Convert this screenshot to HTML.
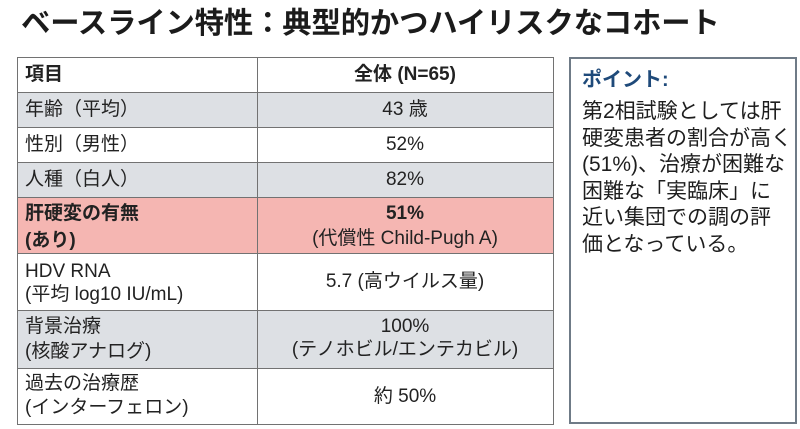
<!DOCTYPE html>
<html lang="ja">
<head>
<meta charset="utf-8">
<style>
  html,body{margin:0;padding:0;background:#fff;}
  body{width:800px;height:429px;position:relative;overflow:hidden;
       font-family:"Liberation Sans","Noto Sans CJK JP",sans-serif;color:#222;}
  .title{position:absolute;left:21px;top:4px;font-size:29.3px;font-weight:bold;line-height:40px;
         color:#1b1b1b;white-space:nowrap;letter-spacing:-0.1px;}
  .row{position:absolute;left:17px;width:536px;}
  .cell{position:absolute;top:0;height:100%;display:flex;align-items:center;
        font-size:19px;line-height:25px;box-sizing:border-box;white-space:nowrap;}
  .c1{left:0;width:240px;padding-left:8px;}
  .c2{left:240px;width:296px;justify-content:center;text-align:center;}
  .hl{position:absolute;left:17px;width:537px;height:1.5px;background:#727272;}
  .vl{position:absolute;top:57px;height:368px;width:1.5px;background:#727272;}
  .gray{background:#dde0e4;}
  .pink{background:#f5b6b2;}
  .box{position:absolute;left:569px;top:57px;width:224px;height:363px;border:2px solid #6f7b87;
       background:#fff;box-sizing:content-box;}
  .box .pt{position:absolute;left:11px;top:8px;font-size:20px;font-weight:bold;color:#1f4a7a;line-height:26px;}
  .box .txt{position:absolute;left:11px;top:40px;font-size:21px;line-height:26.5px;color:#1e1e1e;white-space:nowrap;}
</style>
</head>
<body>
<div class="title">ベースライン特性：典型的かつハイリスクなコホート</div>

<!-- rows -->
<div class="row" style="top:57px;height:35px;">
  <div class="cell c1" style="font-weight:bold;">項目</div>
  <div class="cell c2" style="font-weight:bold;">全体 (N=65)</div>
</div>
<div class="row gray" style="top:92px;height:35px;">
  <div class="cell c1">年齢（平均）</div>
  <div class="cell c2">43 歳</div>
</div>
<div class="row" style="top:127px;height:35px;">
  <div class="cell c1">性別（男性）</div>
  <div class="cell c2">52%</div>
</div>
<div class="row gray" style="top:162px;height:35px;">
  <div class="cell c1">人種（白人）</div>
  <div class="cell c2">82%</div>
</div>
<div class="row pink" style="top:197px;height:56px;">
  <div class="cell c1" style="font-weight:bold;line-height:27px;padding-top:3px;">肝硬変の有無<br>(あり)</div>
  <div class="cell c2" style="padding-top:2px;"><div><b>51%</b><br>(代償性 Child-Pugh A)</div></div>
</div>
<div class="row" style="top:253px;height:57px;">
  <div class="cell c1" style="line-height:23px;padding-top:2px;">HDV RNA<br>(平均 log10 IU/mL)</div>
  <div class="cell c2">5.7 (高ウイルス量)</div>
</div>
<div class="row gray" style="top:310px;height:58px;">
  <div class="cell c1" style="line-height:25px;">背景治療<br>(核酸アナログ)</div>
  <div class="cell c2" style="line-height:23px;padding-bottom:3px;"><div>100%<br>(テノホビル/エンテカビル)</div></div>
</div>
<div class="row" style="top:368px;height:56px;">
  <div class="cell c1" style="line-height:24px;">過去の治療歴<br>(インターフェロン)</div>
  <div class="cell c2">約 50%</div>
</div>

<!-- grid lines -->
<div class="hl" style="top:56.5px;"></div>
<div class="hl" style="top:91.5px;"></div>
<div class="hl" style="top:126.5px;"></div>
<div class="hl" style="top:161.5px;"></div>
<div class="hl" style="top:196.5px;"></div>
<div class="hl" style="top:252.5px;"></div>
<div class="hl" style="top:309.5px;"></div>
<div class="hl" style="top:367.5px;"></div>
<div class="hl" style="top:423.5px;"></div>
<div class="vl" style="left:16.5px;top:56.5px;"></div>
<div class="vl" style="left:256.5px;top:56.5px;"></div>
<div class="vl" style="left:552.5px;top:56.5px;"></div>

<!-- point box -->
<div class="box">
  <div class="pt">ポイント:</div>
  <div class="txt">第2相試験としては肝<br>硬変患者の割合が高く<br>(51%)、治療が困難な<br>困難な「実臨床」に<br>近い集団での調の評<br>価となっている。</div>
</div>
</body>
</html>
